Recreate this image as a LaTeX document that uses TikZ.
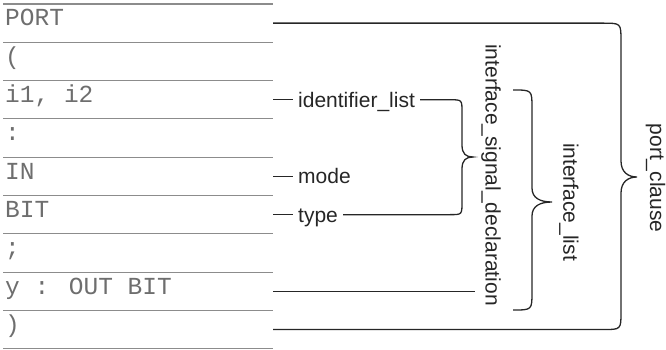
\documentclass[tikz,border=0pt]{standalone}
\usepackage{fontspec}
\setmainfont{Liberation Sans}
\newfontfamily\codefont{Liberation Mono}
\definecolor{rowgray}{HTML}{8C8C8C}
\definecolor{codegray}{HTML}{6E6E6E}
\definecolor{lblcol}{HTML}{262626}
\begin{document}
\begin{tikzpicture}[x=1pt,y=-1pt,
  rowline/.style={draw=rowgray, line width=1.1pt},
  code/.style={font=\codefont\fontsize{24.5}{24.5}\selectfont, text=codegray, anchor=base west, inner sep=0pt},
  lbl/.style={font=\fontsize{21}{21}\selectfont, text=lblcol, anchor=base west, inner xsep=5pt, inner ysep=0pt},
  rot/.style={font=\fontsize{21}{21}\selectfont, text=lblcol, rotate=-90, inner sep=0pt},
  conn/.style={draw=lblcol, line width=1.3pt},
]
\useasboundingbox (0,0) rectangle (666,350);
% table rows
\foreach \k in {0,...,9} \draw[rowline] (3,{4+38.3*\k}) -- (273,{4+38.3*\k});
\node[code] (r0) at (5,26) {PORT};
\node[code] (r1) at (5,64.3) {(};
\node[code] (r2) at (5,102.6) {i1, i2};
\node[code] (r3) at (5,140.9) {:};
\node[code] (r4) at (5,179.2) {IN};
\node[code] (r5) at (5,217.5) {BIT};
\node[code] (r6) at (5,255.8) {;};
\node[code] (r7) at (5,294.1) {y : OUT BIT};
\node[code] (r8) at (5,332.4) {)};
% connector starts
\coordinate (c0) at (273,23.15);
\coordinate (c2) at (273,99.75);
\coordinate (c4) at (273,176.35);
\coordinate (c5) at (273,214.65);
\coordinate (c7) at (273,291.25);
\coordinate (c8) at (273,329.55);
\coordinate (e7) at (475,291.25);
% labels
\node[lbl] (idl) at (293,107.25) {identifier\_list};
\node[lbl] (mod) at (293,183.85) {mode};
\node[lbl] (typ) at (293,222.15) {type};
\node[rot] (isd) at (491,175) {interface\_signal\_declaration};
\node[rot] (il) at (569,202) {interface\_list};
\node[rot] (pc) at (655.5,178) {port\_clause};
% dashes
\draw[conn] (c2) -- (c2 -| idl.west);
\draw[conn] (c4) -- (c4 -| mod.west);
\draw[conn] (c5) -- (c5 -| typ.west);
\draw[conn] (c7) -- (e7);
% inner brace: interface_signal_declaration
\draw[conn] (idl.east |- c2) -- (450,99.75) .. controls (462,99.75) .. (462,112)
  -- (462,145) .. controls (462,154) and (466,157) .. (473,157)
  .. controls (466,157) and (462,160) .. (462,169)
  -- (462,202) .. controls (462,214.65) .. (450,214.65) -- (typ.east |- c5);
% interface_list brace
\draw[conn] (513,90) .. controls (532,90) .. (532,108)
  -- (532,188) .. controls (532,198) and (540,202) .. (552,202)
  .. controls (540,202) and (532,206) .. (532,216)
  -- (532,292) .. controls (532,310) .. (513,310);
% port_clause brace
\draw[conn] (c0) -- (603,23.15) .. controls (621,23.15) .. (621,41)
  -- (621,161) .. controls (621,172) and (628,177) .. (637,177)
  .. controls (628,177) and (621,182) .. (621,193)
  -- (621,312) .. controls (621,329.55) .. (603,329.55) -- (c8);
\end{tikzpicture}
\end{document}
